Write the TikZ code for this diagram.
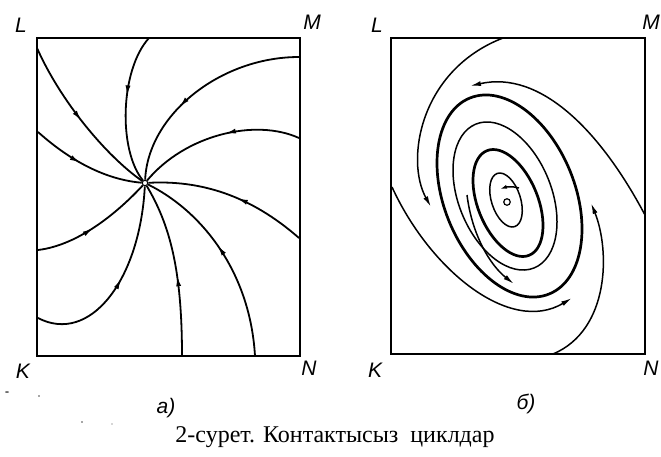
\documentclass[tikz,border=0pt]{standalone}
\usepackage{fontspec}
\setmainfont{Liberation Serif}
\newfontfamily\lblfont{Liberation Sans}
\usetikzlibrary{arrows.meta,decorations.markings}
\begin{document}
\begin{tikzpicture}[x=1pt,y=-1pt,
  frame/.style={line width=2.2pt},
  flow/.style={line width=1.8pt},
  flowthin/.style={line width=1.5pt},
  cyclethick/.style={line width=2.7pt},
  cyclethin/.style={line width=1.5pt},
  tip/.style={-{Latex[length=11pt,width=5pt]}},
  midarrow/.style={postaction={decorate,decoration={markings,mark=at position #1 with {\arrow{Latex[length=11pt,width=5pt]}}}}},
  lbl/.style={font=\lblfont\itshape\fontsize{21}{24}\selectfont, inner sep=0pt},
  speck/.style={fill=black!70}]
\clip (0,0) rectangle (661,456);
% ---------------- left panel (a) ----------------
\draw[frame] (37,38) rectangle (300,356);
\node[draw, circle, fill=white, inner sep=0pt, minimum size=5.5pt, line width=1.1pt] (O) at (145,183) {};
\coordinate (a1) at (37,48);
\coordinate (a2) at (149,38);
\coordinate (a3) at (299,57);
\coordinate (a4) at (299,138);
\coordinate (a5) at (299,238);
\coordinate (a6) at (255,356);
\coordinate (a7) at (182,356);
\coordinate (a8) at (38,318);
\coordinate (a9) at (38,250);
\coordinate (a10) at (38,132);
\draw[flow, midarrow=0.5]  (a1) .. controls (60,100) and (105,155) .. (O);
\draw[flow, midarrow=0.42] (a2) .. controls (120,70) and (118,150) .. (O);
\draw[flow, midarrow=0.62] (a3) .. controls (220,57) and (148,115) .. (O);
\draw[flow, midarrow=0.45] (a4) .. controls (255,118) and (185,135) .. (O);
\draw[flow, midarrow=0.45] (a5) .. controls (250,195) and (200,180) .. (O);
\draw[flow, midarrow=0.56] (a6) .. controls (250,270) and (200,210) .. (O);
\draw[flow, midarrow=0.46] (a7) .. controls (182,270) and (170,225) .. (O);
\draw[flow, midarrow=0.52] (a8) .. controls (90,345) and (140,280) .. (O);
\draw[flow, midarrow=0.48] (a9) .. controls (80,245) and (120,210) .. (O);
\draw[flow, midarrow=0.45] (a10) .. controls (75,165) and (110,180) .. (O);
% ---------------- right panel (b) ----------------
\draw[frame] (391,38) rectangle (645,354);
\node[draw, circle, inner sep=0pt, minimum size=6.5pt, line width=1.2pt] (P) at (507,202) {};
\draw[cyclethick, rotate around={-68:(509.5,196)}] (509.5,196) ellipse [x radius=105.7pt, y radius=65.5pt];
\draw[cyclethin,  rotate around={-68:(505,196)}] (505,196) ellipse [x radius=77.6pt, y radius=46.5pt];
\draw[cyclethick, rotate around={-68:(508,203)}] (508,203) ellipse [x radius=56.4pt, y radius=30.1pt];
\draw[cyclethin,  rotate around={-72:(506,200)}] (506,200) ellipse [x radius=28pt, y radius=14.5pt];
\coordinate (e4a) at (519,188);
\coordinate (e4b) at (500,189);
\draw[cyclethin, -{Latex[length=7pt,width=4pt]}] (e4a) .. controls (512,186) and (506,187) .. (e4b);
\coordinate (ia) at (467,195);
\coordinate (ib) at (514,284);
\draw[cyclethin, tip] (ia) .. controls (472,235) and (490,265) .. (ib);
\coordinate (A0) at (503,38);
\coordinate (A1) at (431,207);
\draw[flowthin, tip] (A0) .. controls (420,70) and (405,160) .. (A1);
\coordinate (B0) at (645,215);
\coordinate (B1) at (470,86);
\draw[flowthin, tip] (B0) .. controls (600,130) and (540,70) .. (B1);
\coordinate (C0) at (392,187);
\coordinate (C1) at (572,298);
\draw[flowthin, tip] (C0) .. controls (430,270) and (510,335) .. (C1);
\coordinate (D0) at (553,354);
\coordinate (D1) at (591,203);
\draw[flowthin, tip] (D0) .. controls (610,330) and (610,250) .. (D1);
% ---------------- labels ----------------
\node[lbl] (L1) at (21,25) {L};
\node[lbl] (M1) at (312,22) {M};
\node[lbl] (K1) at (23,371) {K};
\node[lbl] (N1) at (309,368) {N};
\node[lbl] (L2) at (377,25) {L};
\node[lbl] (M2) at (651,22) {M};
\node[lbl] (K2) at (375,370) {K};
\node[lbl] (N2) at (651,368) {N};
\node[lbl] (la) at (166,408) {а)};
\node[lbl] (lb) at (526,404) {б)};
\node[font=\fontsize{24}{28}\selectfont, inner sep=0pt] (cap) at (335,437) {2-сурет. Контактысыз~ циклдар};
% scanning specks
\fill[speck] (7,392) ellipse [x radius=2pt, y radius=0.8pt];
\fill[speck] (39,396) circle [radius=0.8pt];
\fill[speck] (82,422) circle [radius=0.8pt];
\fill[speck] (112,424) circle [radius=0.7pt];
\end{tikzpicture}
\end{document}
